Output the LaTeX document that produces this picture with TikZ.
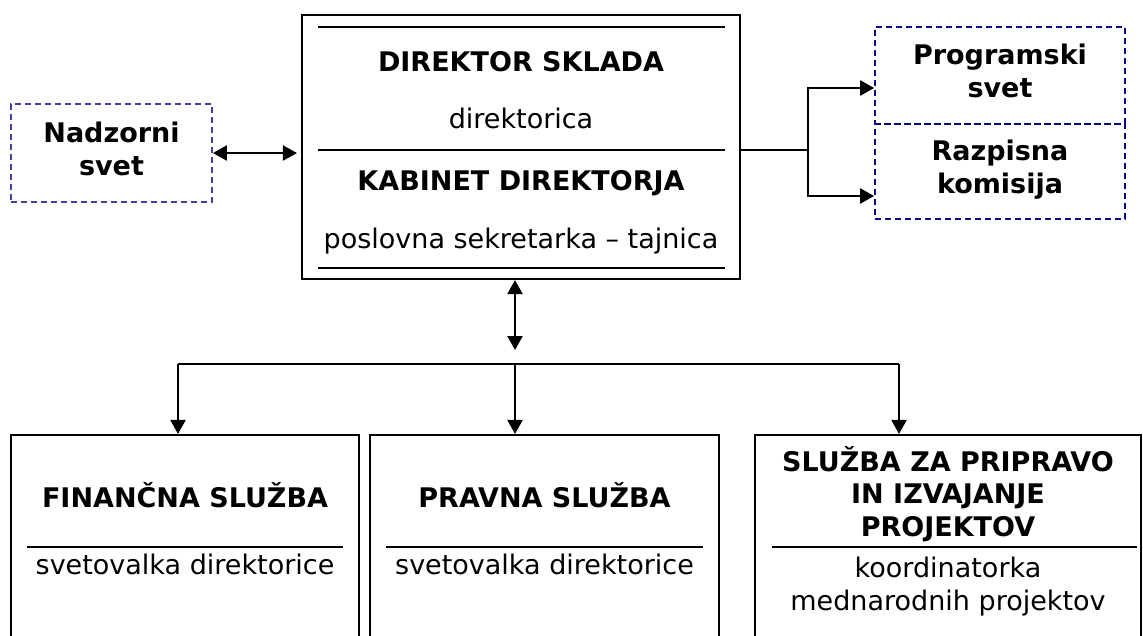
\documentclass[tikz,border=0pt]{standalone}
\usepackage{fontspec}
\setmainfont{DejaVu Sans}
\usetikzlibrary{%
  arrows.meta,%
  positioning,%
  calc%
}
\definecolor{nadzblue}{RGB}{64,64,160}
\definecolor{progblue}{RGB}{10,10,128}

\begin{document}
\begin{tikzpicture}[
  x=1pt, y=-1pt,
  font=\fontsize{27}{32.5}\selectfont,
  >={Triangle[length=14pt,width=15pt]},
  line width=2.1pt,
  box/.style={draw, rectangle, inner sep=0pt},
  dbox/.style={draw=#1, rectangle, inner sep=0pt, line width=1.7pt,
    dash pattern=on 6pt off 4pt},
  head/.style={font=\fontsize{27}{32.5}\selectfont\bfseries, anchor=base,
    inner sep=0pt, align=center},
  sub/.style={anchor=base, inner sep=0pt, align=center},
]
\useasboundingbox (0,0) rectangle (1143,635);
\clip (0,0) rectangle (1143,635);

% direktor
\node[box, minimum width=438pt, minimum height=264pt] (dir) at (521,147) {};
\draw (318,27) -- (725,27);
\draw (318,150) -- (725,150);
\draw (318,268) -- (725,268);
\node[head] (dirT) at (521,71) {DIREKTOR SKLADA};
\node[sub] (dirS) at (521,128) {direktorica};
\node[head] (kabT) at (521,190) {KABINET DIREKTORJA};
\node[sub] (kabS) at (521,248) {poslovna sekretarka – tajnica};

% svet, komisija (base = zadnja vrstica)
\node[dbox=nadzblue, minimum width=201pt, minimum height=98pt] (nadz) at (111.5,153) {};
\node[head] (nadzT) at (111.5,175) {Nadzorni\\svet};
\node[dbox=progblue, minimum width=250pt, minimum height=97pt] (prog) at (1000,75.5) {};
\node[head] (progT) at (1000,97) {Programski\\svet};
\node[dbox=progblue, minimum width=250pt, minimum height=95pt] (razp) at (1000,171.5) {};
\node[head] (razpT) at (1000,193) {Razpisna\\komisija};

% sluzbe
\node[box, minimum width=348pt, minimum height=265pt] (fin) at (185,567.5) {};
\node[head] (finT) at (185,507) {FINANČNA SLUŽBA};
\draw (27,547) -- (343,547);
\node[sub] (finS) at (185,574) {svetovalka direktorice};

\node[box, minimum width=349pt, minimum height=265pt] (prav) at (544.5,567.5) {};
\node[head] (pravT) at (544.5,507) {PRAVNA SLUŽBA};
\draw (386,547) -- (703,547);
\node[sub] (pravS) at (544.5,574) {svetovalka direktorice};

\node[box, minimum width=386pt, minimum height=265pt] (sluz) at (948,567.5) {};
\node[head] (sluzT) at (948,536) {SLUŽBA ZA PRIPRAVO\\IN IZVAJANJE\\PROJEKTOV};
\draw (772,547) -- (1137,547);
\node[sub] (sluzS) at (948,610) {koordinatorka\\mednarodnih projektov};

% povezave
\draw[<->, shorten >=4pt] (nadz.east) -- (nadz.east -| dir.west);

\coordinate (split) at (808,150);
\draw (dir.east |- split) -- (split);
\draw[->] (split) |- ([yshift=-12.5pt]prog.west);
\draw[->] (split) |- ([yshift=-24.5pt]razp.west);

\coordinate (hub) at (515,364);
\coordinate (hubL) at (178,364);
\coordinate (hubR) at (899,364);
\draw[<->] (dir.south -| hub) -- ([yshift=14pt]hub);
\draw (hubL) -- (hubR);
\draw[->] (hubL) -- (hubL |- fin.north);
\draw[->] (hub) -- (hub |- prav.north);
\draw[->] (hubR) -- (hubR |- sluz.north);
\end{tikzpicture}
\end{document}
